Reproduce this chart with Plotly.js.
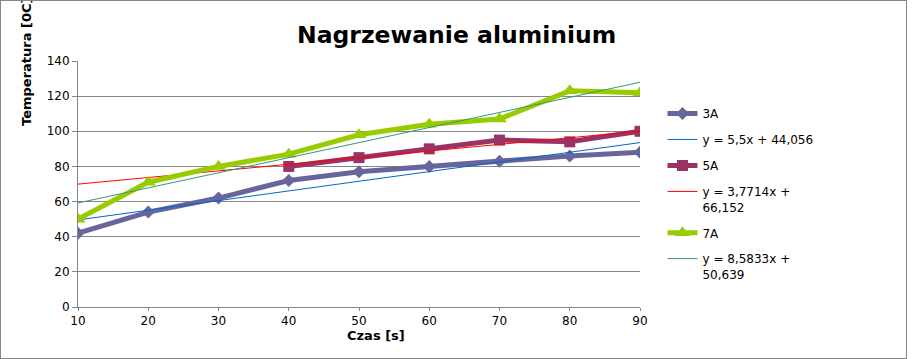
<!DOCTYPE html>
<html><head><meta charset="utf-8">
<script src="https://cdn.plot.ly/plotly-3.0.1.min.js"></script>
<style>
body{margin:0;padding:0;background:#fff;}
#wrap{position:relative;width:912px;height:359px;}
#chart{position:absolute;left:0;top:0;width:912px;height:359px;}
#frame{position:absolute;left:0;top:0;width:907px;height:359px;border:1px solid #868686;box-sizing:border-box;pointer-events:none;}
</style></head>
<body><div id="wrap"><div id="chart"></div><div id="frame"></div></div>
<script>
const czas = [10, 20, 30, 40, 50, 60, 70, 80, 90];
const temp3A = [42, 54, 62, 72, 77, 80, 83, 86, 88];
const czas5A = [40, 50, 60, 70, 80, 90];
const temp5A = [80, 85, 90, 95, 94, 100];
const temp7A = [50, 71, 80, 87, 98, 104, 107, 123, 122];
const trendX = [10, 90];
const trend3A = [49.56, 93.56];
const trend5A = [69.92, 100.09];
const trend7A = [59.22, 127.89];
const names = ['3A', 'y = 5,5x + 44,056', '5A', 'y = 3,7714x +<br>66,152', '7A', 'y = 8,5833x +<br>50,639'];

const data = [
  {x: czas, y: temp3A, name: names[0], mode: 'lines+markers', legendgroup: 'a',
   line: {color: '#67669C', width: 5}, marker: {symbol: 'diamond', size: 10, color: '#67669C'}},
  {x: trendX, y: trend3A, name: names[1], mode: 'lines', legendgroup: 'b',
   line: {color: '#0066CC', width: 1}},
  {x: czas5A, y: temp5A, name: names[2], mode: 'lines+markers', legendgroup: 'c',
   line: {color: '#993366', width: 5}, marker: {symbol: 'square', size: 11, color: '#993366'}},
  {x: trendX, y: trend5A, name: names[3], mode: 'lines', legendgroup: 'd',
   line: {color: '#FF0000', width: 1}},
  {x: czas, y: temp7A, name: names[4], mode: 'lines+markers', legendgroup: 'e',
   line: {color: '#99CC00', width: 5}, marker: {symbol: 'triangle-up', size: 13, color: '#99CC00'}},
  {x: trendX, y: trend7A, name: names[5], mode: 'lines', legendgroup: 'f',
   line: {color: '#339977', width: 1}}
];

const layout = {
  width: 912, height: 359,
  margin: {l: 78, r: 272, t: 61, b: 52},
  paper_bgcolor: '#fff', plot_bgcolor: '#fff',
  font: {family: 'DejaVu Sans', size: 12, color: '#000'},
  showlegend: true,
  legend: {x: 1.04, xanchor: 'left', y: 0.845, yanchor: 'top', traceorder: 'grouped', valign: 'top',
    tracegroupgap: 7, font: {family: 'DejaVu Sans', size: 12, color: '#000'}, bgcolor: 'rgba(0,0,0,0)'},
  xaxis: {range: [10, 90], tickmode: 'array', tickvals: czas, ticktext: czas.map(String),
    showgrid: false, zeroline: false, showline: true, linecolor: '#868686', linewidth: 1,
    ticks: 'outside', ticklen: 3, tickcolor: '#868686', tickfont: {size: 12}, fixedrange: true},
  yaxis: {range: [0, 140], dtick: 20, tick0: 0, showgrid: true, gridcolor: '#868686', gridwidth: 1,
    zeroline: false, showline: true, linecolor: '#868686', linewidth: 1,
    ticks: 'outside', ticklen: 5, tickcolor: '#868686', tickfont: {size: 12}, fixedrange: true},
  annotations: [
    {text: '<b>Nagrzewanie aluminium</b>', xref: 'paper', yref: 'paper', x: (456-78)/562, y: (307-35)/246,
     xanchor: 'center', yanchor: 'middle', showarrow: false, font: {size: 23.5, family: 'DejaVu Sans', color: '#000'}},
    {text: '<b>Czas [s]</b>', xref: 'paper', yref: 'paper', x: (376-78)/562, y: (307-335)/246,
     xanchor: 'center', yanchor: 'middle', showarrow: false, font: {size: 13, family: 'DejaVu Sans', color: '#000'}},
    {text: '<b>Temperatura [0C]</b>', xref: 'paper', yref: 'paper', x: (27-78)/562, y: (307-62)/246,
     xanchor: 'center', yanchor: 'middle', textangle: -90, showarrow: false, font: {size: 13, family: 'DejaVu Sans', color: '#000'}}
  ]
};
Plotly.newPlot('chart', data, layout, {displayModeBar: false, staticPlot: true});
</script></body></html>
